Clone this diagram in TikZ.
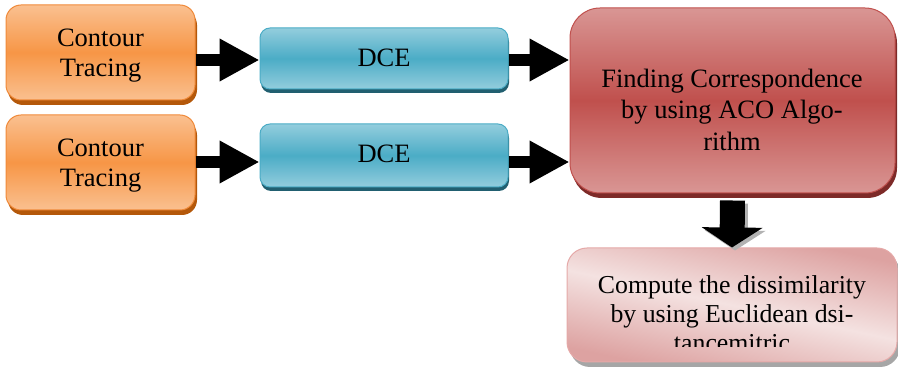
\documentclass[tikz,border=0pt]{standalone}
\usepackage{fontspec}
\setmainfont{Liberation Serif}
\usetikzlibrary{arrows.meta,shadows,calc}
\definecolor{orL}{HTML}{FAC090}
\definecolor{orM}{HTML}{F79646}
\definecolor{orB}{HTML}{F08A3A}
\definecolor{orS}{HTML}{B4580A}
\definecolor{blL}{HTML}{93CDDD}
\definecolor{blM}{HTML}{4BACC6}
\definecolor{blB}{HTML}{4BACC6}
\definecolor{blS}{HTML}{215F70}
\definecolor{rdL}{HTML}{D99694}
\definecolor{rdM}{HTML}{C0504D}
\definecolor{rdB}{HTML}{C0504D}
\definecolor{rdS}{HTML}{7D2A28}
\definecolor{pkL}{HTML}{F4E2E1}
\definecolor{pkD}{HTML}{DDA2A1}
\definecolor{pkB}{HTML}{E5A9A8}
\tikzset{
  orangebox/.style={draw=orB, line width=1pt, rounded corners=15pt,
    top color=orL, bottom color=orL, middle color=orM,
    drop shadow={shadow xshift=2pt, shadow yshift=-5pt, fill=orS, opacity=1},
    minimum width=189pt, minimum height=95pt, inner sep=0pt},
  bluebox/.style={draw=blB, line width=1pt, rounded corners=10pt,
    top color=blL, bottom color=blL, middle color=blM,
    drop shadow={shadow xshift=1pt, shadow yshift=-4pt, fill=blS, opacity=1},
    minimum width=248pt, inner sep=0pt},
  redbox/.style={draw=rdB, line width=1pt, rounded corners=30pt,
    top color=rdL, bottom color=rdL, middle color=rdM,
    drop shadow={shadow xshift=2pt, shadow yshift=-5pt, fill=rdS, opacity=1},
    minimum width=325pt, minimum height=185pt, inner sep=0pt},
  pinkbox/.style={draw=pkB, line width=1pt, rounded corners=20pt,
    top color=pkD, bottom color=pkD, middle color=pkL, shading angle=-12,
    drop shadow={shadow xshift=3pt, shadow yshift=-5pt, fill=black!35, opacity=1},
    minimum width=330pt, minimum height=114pt, inner sep=0pt},
  txt/.style={font=\fontsize{26.5}{30}\selectfont, align=center, inner sep=0pt},
  bigarrow/.style={line width=12pt, -{Triangle[length=40pt,width=40pt]}},
  downarrow/.style={line width=25pt, -{Triangle[length=20pt,width=60pt]}}
}
\begin{document}
\begin{tikzpicture}[x=1pt,y=-1pt]
\useasboundingbox (0,0) rectangle (898,371);
% boxes
\node[orangebox] (o1) at (100.5,52.5) {};
\node[orangebox] (o2) at (100.5,162.5) {};
\node[bluebox, minimum height=61pt] (d1) at (384,58.5) {};
\node[bluebox, minimum height=63pt] (d2) at (384,155.5) {};
\node[redbox] (r) at (732.5,100.5) {};
\node[pinkbox] (p) at (732,305) {};
% texts
\node[txt] (o1t) at (100.5,55.9) {Contour\\Tracing};
\node[txt] (o2t) at (100.5,165.9) {Contour\\Tracing};
\node[txt, anchor=base] (d1t) at (384,67) {DCE};
\node[txt, anchor=base] (d2t) at (384,163) {DCE};
\node[txt, font=\fontsize{26.5}{31.5}\selectfont] (rt) at (732,109.5)
  {Finding Correspondence\\by using ACO Algo-\\rithm};
\begin{scope}
  \clip (0,0) rectangle (898,347);
  \node[txt, font=\fontsize{25.8}{29}\selectfont] (pt) at (732,313.5)
    {Compute the dissimilarity\\by using Euclidean dsi-\\tancemitric};
\end{scope}
% connectors
\coordinate (y1) at (0,60);
\coordinate (y2) at (0,162);
\draw[bigarrow] (o1.east |- y1) -- (d1.west |- y1);
\draw[bigarrow] (o2.east |- y2) -- (d2.west |- y2);
\draw[bigarrow] (d1.east |- y1) -- (r.west |- y1);
\draw[bigarrow] (d2.east |- y2) -- (r.west |- y2);
\coordinate (ds) at ($(r.south)+(0,7)$);
\draw[downarrow, black!30, transform canvas={shift={(3pt,-3pt)}}] (ds) -- (p.north);
\draw[downarrow] (ds) -- (p.north);
\end{tikzpicture}
\end{document}
